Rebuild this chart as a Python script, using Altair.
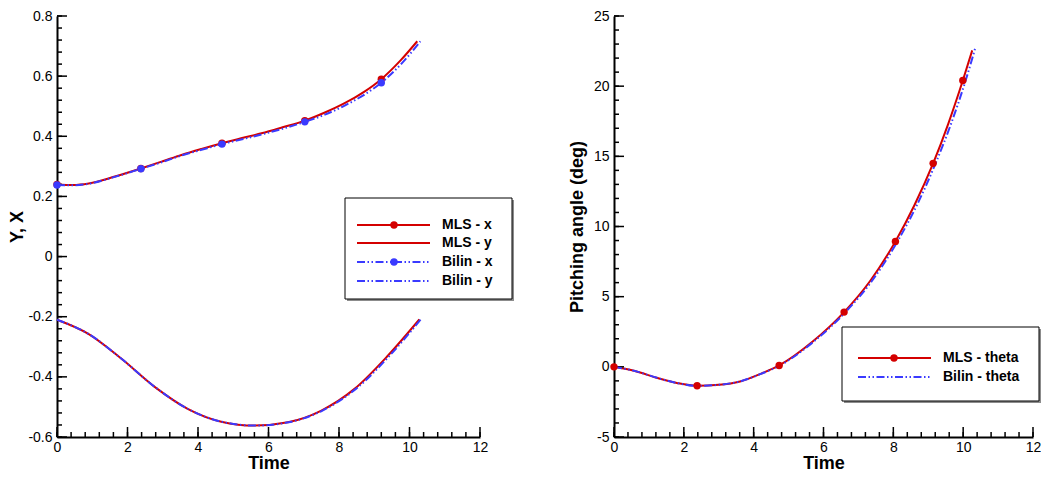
import altair as alt
import pandas as pd
import numpy as np

# ---------------- data ----------------
# Left panel: Y, X vs Time
t_mls_x = [0, 0.45, 0.9, 1.64, 2.38, 3.0, 3.53, 4.1, 4.68, 5.25, 5.8, 6.4, 7.03, 7.6, 8.16, 8.7, 9.2, 9.76, 10.22]
v_mls_x = [0.240, 0.238, 0.243, 0.266, 0.293, 0.317, 0.338, 0.358, 0.377, 0.394, 0.410, 0.430, 0.452, 0.479, 0.510, 0.547, 0.590, 0.654, 0.716]

t_bil_x = [0, 0.45, 0.9, 1.64, 2.38, 3.0, 3.53, 4.1, 4.68, 5.25, 5.8, 6.4, 7.03, 7.6, 8.16, 8.7, 9.2, 9.8, 10.31]
v_bil_x = [0.238, 0.237, 0.242, 0.265, 0.292, 0.315, 0.336, 0.355, 0.374, 0.390, 0.406, 0.425, 0.448, 0.472, 0.502, 0.537, 0.578, 0.645, 0.716]

t_mls_y = [0, 0.89, 1.83, 2.78, 3.72, 4.66, 5.61, 6.55, 7.5, 8.44, 9.39, 10.28]
v_mls_y = [-0.210, -0.257, -0.340, -0.434, -0.507, -0.549, -0.562, -0.551, -0.512, -0.440, -0.329, -0.209]

t_bil_y = [0, 0.89, 1.83, 2.78, 3.72, 4.66, 5.61, 6.57, 7.53, 8.48, 9.44, 10.32]
v_bil_y = [-0.210, -0.257, -0.340, -0.434, -0.507, -0.549, -0.562, -0.551, -0.512, -0.440, -0.329, -0.209]

mk_t_mls_x = [0, 2.38, 4.68, 7.03, 9.2]
mk_v_mls_x = [0.240, 0.293, 0.377, 0.452, 0.590]
mk_t_bil_x = [0, 2.38, 4.68, 7.03, 9.2]
mk_v_bil_x = [0.238, 0.292, 0.374, 0.448, 0.578]

# Right panel: Pitching angle vs Time
t_mls_th = [0, 0.6, 1.25, 1.8, 2.38, 3.0, 3.61, 4.2, 4.73, 5.69, 6.59, 7.33, 8.06, 8.6, 9.14, 9.57, 9.99, 10.26]
v_mls_th = [0, -0.30, -0.80, -1.15, -1.35, -1.28, -1.04, -0.50, 0.10, 1.80, 3.90, 6.10, 8.94, 11.50, 14.50, 17.30, 20.40, 22.55]

t_bil_th = [0, 0.6, 1.25, 1.8, 2.38, 3.0, 3.61, 4.21, 4.75, 5.72, 6.63, 7.38, 8.12, 8.67, 9.21, 9.65, 10.07, 10.35]
v_bil_th = [0, -0.30, -0.80, -1.15, -1.35, -1.28, -1.04, -0.50, 0.10, 1.80, 3.90, 6.10, 8.94, 11.50, 14.50, 17.30, 20.40, 22.75]

mk_t_mls_th = [0, 2.38, 4.73, 6.59, 8.06, 9.14, 9.99]
mk_v_mls_th = [0, -1.35, 0.10, 3.90, 8.94, 14.50, 20.40]

left_labels = ["MLS - x", "MLS - y", "Bilin - x", "Bilin - y"]
right_labels = ["MLS - theta", "Bilin - theta"]

x_major = [0, 2, 4, 6, 8, 10, 12]
yl_major = [-0.6, -0.4, -0.2, 0, 0.2, 0.4, 0.6, 0.8]
yr_major = [-5, 0, 5, 10, 15, 20, 25]
x_minor = [round(v, 4) for v in np.arange(0, 12.0001, 0.4)]
yl_minor = [round(v, 4) for v in np.arange(-0.6, 0.80001, 0.04)]
yr_minor = [round(v, 4) for v in np.arange(-5, 25.0001, 1)]

# ---------------- styling ----------------
WL, WR, H = 423, 419, 421
RED = "#d40000"
BLUE = "#3a3aff"
DASH = [8, 2.5, 1.5, 2.5, 1.5, 2.5]
FONT = "Liberation Sans"
LABEL_EXPR = "datum.value < 0 ? '-' + format(-datum.value, '~g') : format(datum.value, '~g')"


def df(t, v):
    return pd.DataFrame({"t": t, "v": v})


def main_axis(title, values, label_pad, title_pad):
    return alt.Axis(
        title=title, values=values, ticks=False, tickSize=0, grid=False,
        domainColor="black", domainWidth=2,
        labelFont=FONT, labelFontSize=14, labelColor="black", labelPadding=label_pad,
        labelFlush=False, labelOverlap=False, labelExpr=LABEL_EXPR,
        titleFont=FONT, titleFontSize=18, titleFontWeight="bold", titleColor="black",
        titlePadding=title_pad,
    )


def xenc(axis=None, field="t"):
    return alt.X(f"{field}:Q", scale=alt.Scale(domain=[0, 12], nice=False, zero=False), axis=axis, title=None)


def yenc(ydom, axis=None, field="v"):
    return alt.Y(f"{field}:Q", scale=alt.Scale(domain=ydom, nice=False, zero=False), axis=axis, title=None)


def tick_layers(ydom, xvals, xlen, yvals, ylen):
    xt = pd.DataFrame({"tick": xvals})
    yt = pd.DataFrame({"tick": yvals})
    return [
        alt.Chart(xt).mark_rule(color="black", strokeWidth=1.5).encode(
            x=xenc(field="tick"), y=alt.value(H), y2=alt.value(H - xlen)),
        alt.Chart(yt).mark_rule(color="black", strokeWidth=1.5).encode(
            y=yenc(ydom, field="tick"), x=alt.value(0), x2=alt.value(ylen)),
    ]


one = pd.DataFrame({"k": [0]})


def legend_layers(box, rows, labels, line_x, mark_x, text_x):
    x1, x2, y1, y2 = box
    out = [
        alt.Chart(one).mark_rect(color="#8c8c8c").encode(
            x=alt.value(x1 + 2), x2=alt.value(x2 + 2), y=alt.value(y1 + 2), y2=alt.value(y2 + 2)),
        alt.Chart(one).mark_rect(fill="white", stroke="black", strokeWidth=1).encode(
            x=alt.value(x1), x2=alt.value(x2), y=alt.value(y1), y2=alt.value(y2)),
    ]
    for (yy, color, dash, marker), lab in zip(rows, labels):
        rule_kw = dict(color=color, strokeWidth=2)
        if dash:
            rule_kw["strokeDash"] = DASH
        out.append(alt.Chart(one).mark_rule(**rule_kw).encode(
            x=alt.value(line_x[0]), x2=alt.value(line_x[1]), y=alt.value(yy)))
        if marker:
            out.append(alt.Chart(one).mark_point(filled=True, size=55, color=color, opacity=1).encode(
                x=alt.value(mark_x), y=alt.value(yy)))
        out.append(alt.Chart(one).mark_text(
            align="left", baseline="middle", font=FONT, fontSize=14, fontWeight="bold", color="black"
        ).encode(x=alt.value(text_x), y=alt.value(yy), text=alt.value(lab)))
    return out


def line(t, v, ydom, color, dash=False, xaxis=None, yaxis=None):
    kw = dict(color=color, strokeWidth=2, interpolate="monotone")
    if dash:
        kw["strokeDash"] = DASH
    return alt.Chart(df(t, v)).mark_line(**kw).encode(x=xenc(xaxis), y=yenc(ydom, yaxis))


def dots(t, v, ydom, color):
    return alt.Chart(df(t, v)).mark_point(filled=True, size=55, color=color, opacity=1).encode(
        x=xenc(), y=yenc(ydom))


# ---------------- left panel ----------------
ydl = [-0.6, 0.8]
left_layers = [line(t_mls_x, v_mls_x, ydl, RED,
                    xaxis=main_axis("Time", x_major, 3, 0),
                    yaxis=main_axis("Y, X", yl_major, 5, 1))]
left_layers += tick_layers(ydl, x_minor, 5, yl_minor, 5)
left_layers += tick_layers(ydl, x_major, 10, yl_major, 10)
left_layers += [
    line(t_mls_y, v_mls_y, ydl, RED),
    dots(mk_t_mls_x, mk_v_mls_x, ydl, RED),
    line(t_bil_x, v_bil_x, ydl, BLUE, dash=True),
    line(t_bil_y, v_bil_y, ydl, BLUE, dash=True),
    dots(mk_t_bil_x, mk_v_bil_x, ydl, BLUE),
]
left_layers += legend_layers(
    (288, 455, 182, 283),
    [(209, RED, False, True), (227, RED, False, False), (246, BLUE, True, True), (265, BLUE, True, False)],
    left_labels, (300, 373), 337, 385,
)
left = alt.layer(*left_layers).resolve_axis(x="independent", y="independent").properties(width=WL, height=H)

# ---------------- right panel ----------------
ydr = [-5, 25]
right_layers = [line(t_mls_th, v_mls_th, ydr, RED,
                     xaxis=main_axis("Time", x_major, 3, 0),
                     yaxis=main_axis("Pitching angle (deg)", yr_major, 5, 7))]
right_layers += tick_layers(ydr, x_minor, 5, yr_minor, 5)
right_layers += tick_layers(ydr, x_major, 10, yr_major, 10)
right_layers += [
    line(t_bil_th, v_bil_th, ydr, BLUE, dash=True),
    dots(mk_t_mls_th, mk_v_mls_th, ydr, RED),
]
right_layers += legend_layers(
    (228, 425, 311, 385),
    [(342, RED, False, True), (361, BLUE, True, False)],
    right_labels, (244, 317), 280, 329,
)
right = alt.layer(*right_layers).resolve_axis(x="independent", y="independent").properties(width=WR, height=H)

chart = (
    alt.hconcat(left, right, spacing=134, bounds="flush")
    .properties(padding={"left": 0, "top": 1, "right": 0, "bottom": 0}, background="white")
    .configure_view(stroke=None)
)

chart.save("out.html", embed_options={"renderer": "svg", "actions": False})
